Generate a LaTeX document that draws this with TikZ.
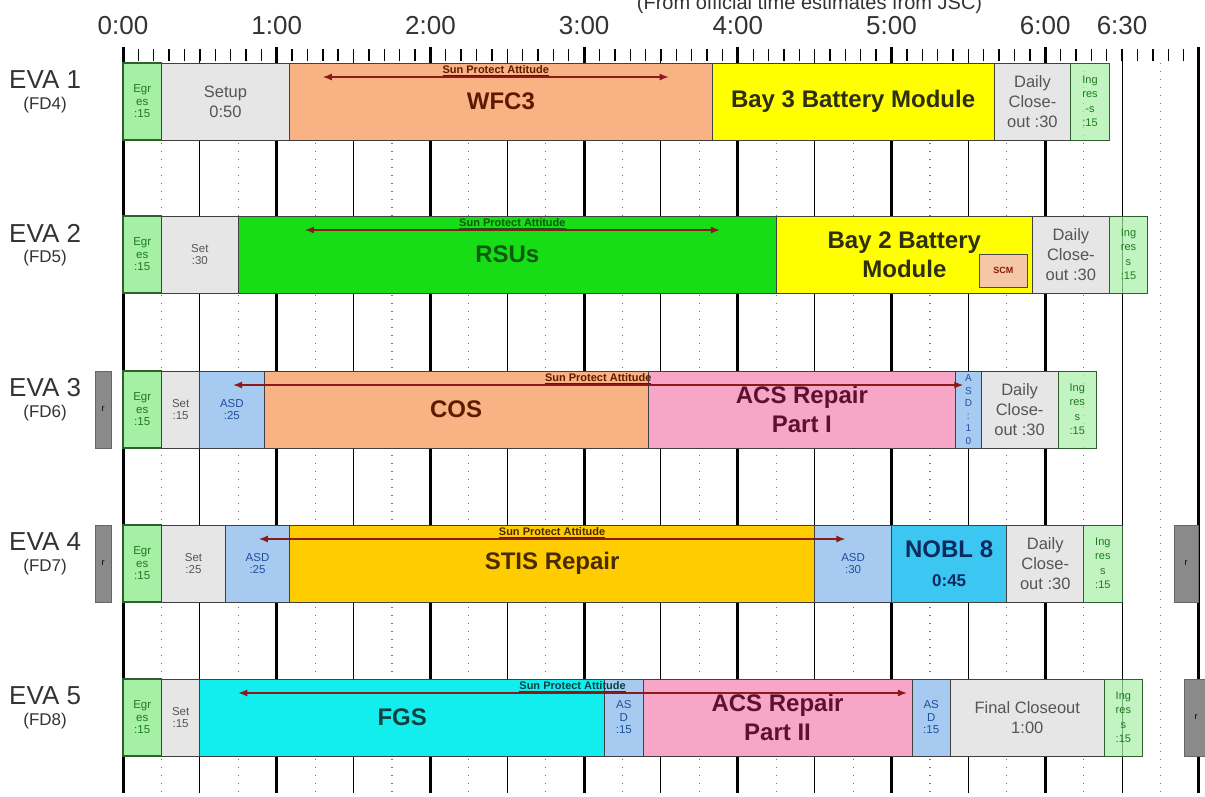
\documentclass[tikz,border=0pt]{standalone}
\usepackage{fontspec}
\setmainfont{Liberation Sans}
\usepackage{xcolor}
\usetikzlibrary{arrows.meta,positioning}

\definecolor{egrfill}{HTML}{A6F0A6}
\definecolor{egrtext}{HTML}{1E7A1E}
\definecolor{egrdraw}{HTML}{2F5F2F}
\definecolor{setfill}{HTML}{E6E6E6}
\definecolor{settext}{HTML}{555555}
\definecolor{orgfill}{HTML}{F8B283}
\definecolor{orgtext}{HTML}{5E1A00}
\definecolor{yelfill}{HTML}{FFFF00}
\definecolor{yeltext}{HTML}{2E2E10}
\definecolor{rsufill}{HTML}{16DD16}
\definecolor{rsutext}{HTML}{0E5A0E}
\definecolor{pnkfill}{HTML}{F7A6C8}
\definecolor{pnktext}{HTML}{5E1030}
\definecolor{asdfill}{HTML}{A7CBF0}
\definecolor{asdtext}{HTML}{1F4E9E}
\definecolor{stisfill}{HTML}{FFCC00}
\definecolor{stistext}{HTML}{4A2A00}
\definecolor{noblfill}{HTML}{3CC6F2}
\definecolor{nobltext}{HTML}{0B2B5E}
\definecolor{fgsfill}{HTML}{12EEEE}
\definecolor{fgstext}{HTML}{0E4040}
\definecolor{rgray}{HTML}{8A8A8A}
\definecolor{scmfill}{HTML}{F6C7A6}
\definecolor{scmtext}{HTML}{8B1A00}
\definecolor{arrcol}{HTML}{8B1A1A}
\definecolor{lblcol}{HTML}{333333}

\begin{document}
\begin{tikzpicture}[
  x=2.5617pt, y=-1pt,
  node distance=0pt,
  every node/.style={align=center, inner sep=0pt, outer sep=0pt},
  dur/.style={minimum width=#1*2.5617pt},
  seg/.style={draw=black!75, line width=0.8pt, minimum height=77pt},
  small/.style={font=\fontsize{11.5}{12.5}\selectfont},
  medium/.style={font=\fontsize{16.5}{20}\selectfont},
  big/.style={font=\fontsize{24}{29}\selectfont\bfseries},
  egr/.style={seg, small, draw=egrdraw, line width=1.2pt, fill=egrfill, text=egrtext},
  ingr/.style={seg, small, draw=egrdraw, fill=egrfill, fill opacity=0.7, text opacity=1, text=egrtext, font=\fontsize{11}{14.5}\selectfont},
  setp/.style={seg, small, fill=setfill, text=settext},
  closeout/.style={seg, medium, fill=setfill, text=settext},
  asd/.style={seg, small, fill=asdfill, text=asdtext},
  task/.style={seg, big},
  rbox/.style={draw=black!60, fill=rgray, minimum width=16pt, minimum height=77pt, font=\fontsize{9}{10}\selectfont},
  scm/.style={draw=black!70, line width=0.8pt, fill=scmfill, text=scmtext, minimum width=48pt, minimum height=33pt, font=\fontsize{9}{10}\selectfont\bfseries},
  evalabel/.style={text=lblcol, font=\fontsize{26}{28}\selectfont},
  fdlabel/.style={text=lblcol, font=\fontsize{17}{19}\selectfont},
  timelbl/.style={text=lblcol, font=\fontsize{26}{28}\selectfont},
  sparr/.style={{Latex[length=9pt,width=7pt]}-{Latex[length=9pt,width=7pt]}, arrcol, line width=1.3pt},
  splabel/.style={above, inner sep=1pt, font=\fontsize{11}{12}\selectfont\bfseries},
  hrline/.style={line width=3pt, black},
  hline/.style={line width=1pt, black},
  qline/.style={line width=1.2pt, black!55, dash pattern=on 1.2pt off 6.8pt},
  tick/.style={line width=1.4pt, black}
]
\useasboundingbox (-48.02,0) rectangle (422.37,796);

% time axis and grid
\node[text=lblcol, font=\fontsize{20}{22}\selectfont, anchor=base] (title) at (268,9) {(From official time estimates from JSC)};
\foreach \m/\t in {0/0:00,60/1:00,120/2:00,180/3:00,240/4:00,300/5:00,360/6:00,390/6:30}
  \node[timelbl] (t\m) at (\m,26) {\t};
\foreach \m in {0,6,...,420}
  \draw[tick] (\m,49) -- (\m,61);
\foreach \m in {15,45,...,405}
  \draw[qline] (\m,63) -- (\m,793);
\foreach \m in {30,90,...,390}
  \draw[hline] (\m,49) -- (\m,793);
\foreach \m in {0,60,...,420}
  \draw[hrline] (\m,47) -- (\m,793);

% EVA 1
\node[evalabel] (eva1) at (-30.4,80) {EVA 1};
\node[fdlabel, below=8pt of eva1] (fd1) {(FD4)};
\node[egr, dur=15, anchor=north west] (e1egr) at (0,63) {Egr\\es\\:15};
\node[setp, medium, dur=50, right=of e1egr] (e1set) {Setup\\0:50};
\node[task, dur=165, fill=orgfill, text=orgtext, right=of e1set] (e1wfc) {WFC3};
\node[task, dur=110, fill=yelfill, text=yeltext, right=of e1wfc] (e1bay) {Bay 3 Battery Module};
\node[closeout, dur=30, right=of e1bay] (e1cls) {Daily\\Close-\\out :30};
\node[ingr, dur=15, right=of e1cls] (e1ing) {Ing\\res\\-s\\:15};
\coordinate (sp1a) at (78,77);
\coordinate (sp1b) at (213,77);
\draw[sparr] (sp1a) -- node[splabel, text=orgtext] (sp1) {\underline{Sun Protect Attitude}} (sp1b);

% EVA 2
\node[evalabel] (eva2) at (-30.4,233) {EVA 2};
\node[fdlabel, below=8pt of eva2] (fd2) {(FD5)};
\node[egr, dur=15, anchor=north west] (e2egr) at (0,216) {Egr\\es\\:15};
\node[setp, dur=30, right=of e2egr] (e2set) {Set\\:30};
\node[task, dur=210, fill=rsufill, text=rsutext, right=of e2set] (e2rsu) {RSUs};
\node[task, dur=100, fill=yelfill, text=yeltext, right=of e2rsu] (e2bay) {Bay 2 Battery\\Module};
\node[closeout, dur=30, right=of e2bay] (e2cls) {Daily\\Close-\\out :30};
\node[ingr, dur=15, right=of e2cls] (e2ing) {Ing\\res\\s\\:15};
\node[scm, above left=6pt and 5pt of e2bay.south east] (e2scm) {SCM};
\coordinate (sp2a) at (71,230);
\coordinate (sp2b) at (233,230);
\draw[sparr] (sp2a) -- node[splabel, text=rsutext] (sp2) {\underline{Sun Protect Attitude}} (sp2b);

% EVA 3
\node[evalabel] (eva3) at (-30.4,388) {EVA 3};
\node[fdlabel, below=8pt of eva3] (fd3) {(FD6)};
\node[egr, dur=15, anchor=north west] (e3egr) at (0,371) {Egr\\es\\:15};
\node[rbox, left=12pt of e3egr] (r3l) {r};
\node[setp, dur=15, right=of e3egr] (e3set) {Set\\:15};
\node[asd, dur=25, right=of e3set] (e3asd) {ASD\\:25};
\node[task, dur=150, fill=orgfill, text=orgtext, right=of e3asd] (e3cos) {COS};
\node[task, dur=120, fill=pnkfill, text=pnktext, right=of e3cos] (e3acs) {ACS Repair\\Part I};
\node[asd, dur=10, right=of e3acs, font=\fontsize{10}{12.5}\selectfont] (e3asdb) {A\\S\\D\\:\\1\\0};
\node[closeout, dur=30, right=of e3asdb] (e3cls) {Daily\\Close-\\out :30};
\node[ingr, dur=15, right=of e3cls] (e3ing) {Ing\\res\\s\\:15};
\coordinate (sp3a) at (43,385);
\coordinate (sp3b) at (328,385);
\draw[sparr] (sp3a) -- node[splabel, text=orgtext] (sp3) {\underline{Sun Protect Attitude}} (sp3b);

% EVA 4
\node[evalabel] (eva4) at (-30.4,542) {EVA 4};
\node[fdlabel, below=8pt of eva4] (fd4) {(FD7)};
\node[egr, dur=15, anchor=north west] (e4egr) at (0,525) {Egr\\es\\:15};
\node[rbox, left=12pt of e4egr] (r4l) {r};
\node[setp, dur=25, right=of e4egr] (e4set) {Set\\:25};
\node[asd, dur=25, right=of e4set] (e4asd) {ASD\\:25};
\node[task, dur=205, fill=stisfill, text=stistext, right=of e4asd] (e4stis) {STIS Repair};
\node[asd, dur=30, right=of e4stis] (e4asdb) {ASD\\:30};
\node[task, dur=45, fill=noblfill, text=nobltext, right=of e4asdb] (e4nobl) {NOBL 8\\{\fontsize{17}{22}\selectfont 0:45}};
\node[closeout, dur=30, right=of e4nobl] (e4cls) {Daily\\Close-\\out :30};
\node[ingr, dur=15, right=of e4cls] (e4ing) {Ing\\res\\s\\:15};
\node[rbox, minimum width=24pt, anchor=north west] (r4r) at (410.3,525) {r};
\coordinate (sp4a) at (53,539);
\coordinate (sp4b) at (282,539);
\draw[sparr] (sp4a) -- node[splabel, text=stistext] (sp4) {\underline{Sun Protect Attitude}} (sp4b);

% EVA 5
\node[evalabel] (eva5) at (-30.4,696) {EVA 5};
\node[fdlabel, below=8pt of eva5] (fd5) {(FD8)};
\node[egr, dur=15, anchor=north west] (e5egr) at (0,679) {Egr\\es\\:15};
\node[setp, dur=15, right=of e5egr] (e5set) {Set\\:15};
\node[task, dur=158, fill=fgsfill, text=fgstext, right=of e5set] (e5fgs) {FGS};
\node[asd, dur=15, right=of e5fgs] (e5asd) {AS\\D\\:15};
\node[task, dur=105, fill=pnkfill, text=pnktext, right=of e5asd] (e5acs) {ACS Repair\\Part II};
\node[asd, dur=15, right=of e5acs] (e5asdb) {AS\\D\\:15};
\node[closeout, dur=60, right=of e5asdb] (e5cls) {Final Closeout\\1:00};
\node[ingr, dur=15, right=of e5cls] (e5ing) {Ing\\res\\s\\:15};
\node[rbox, minimum width=24pt, anchor=north west] (r5r) at (414.2,679) {r};
\coordinate (sp5a) at (45,693);
\coordinate (sp5b) at (306,693);
\draw[sparr] (sp5a) -- node[splabel, text=fgstext] (sp5) {\underline{Sun Protect Attitude}} (sp5b);
\end{tikzpicture}
\end{document}
